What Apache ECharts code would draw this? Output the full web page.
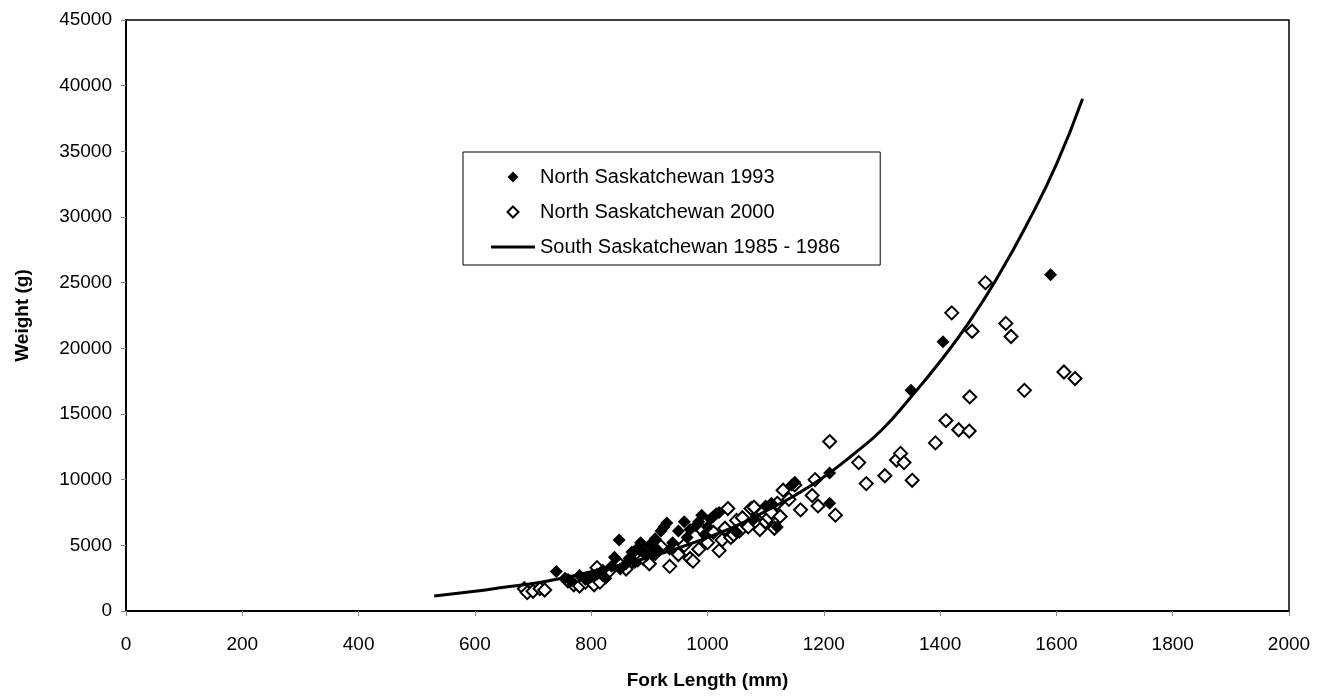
<!DOCTYPE html>
<html><head><meta charset="utf-8">
<script src="https://cdn.jsdelivr.net/npm/echarts@6/dist/echarts.min.js"></script>
<style>html,body{margin:0;padding:0;background:#fff}#c{width:1333px;height:700px}</style>
</head><body><div id="c"></div>
<script>
// Fork length (mm), weight (g)
const ns1993 = [
[740,3000],[755,2500],[765,2300],[780,2700],[790,2400],[800,2600],[810,2800],[820,3100],[825,2500],[835,3400],
[840,4100],[848,5400],[850,3200],[860,3600],[865,4000],[870,4500],[875,3700],[880,4800],[885,5200],[890,4500],
[895,4200],[900,5000],[905,4300],[910,5500],[915,4600],[920,6100],[925,6400],[930,6700],[935,4700],[940,5200],
[950,6100],[960,6800],[965,5600],[970,6200],[980,6500],[985,6800],[990,7300],[995,5800],[1000,6400],[1005,7000],
[1010,7200],[1015,7400],[1020,7500],[1050,6000],[1080,7000],[1100,8000],[1110,8200],[1120,6400],[1145,9600],[1150,9800],
[1210,10500],[1210,8200],[1350,16800],[1405,20500],[1590,25600]
];
const ns2000 = [
[685,1700],[690,1400],[700,1500],[712,1700],[720,1600],[760,2300],[770,2000],[780,1900],[790,2200],[800,2500],
[805,2000],[810,3300],[815,2200],[820,2800],[830,3000],[850,3500],[860,3200],[870,3800],[880,3900],[890,4000],
[900,3600],[910,4400],[920,4900],[935,3400],[950,4300],[960,5000],[970,4000],[975,3800],[985,4700],[990,6200],
[1000,5200],[1010,6000],[1020,4600],[1025,5400],[1030,6300],[1035,7800],[1040,5600],[1045,5800],[1050,6900],[1055,6100],
[1060,7100],[1070,6400],[1075,7800],[1080,7900],[1085,6700],[1090,6200],[1095,7500],[1100,6800],[1105,7100],[1110,7500],
[1115,6300],[1120,8200],[1125,7200],[1130,9200],[1140,8500],[1150,9600],[1160,7700],[1180,8800],[1185,10000],[1190,8000],
[1210,12900],[1220,7300],[1260,11300],[1273,9700],[1305,10300],[1325,11500],[1332,12000],[1338,11300],[1352,9950],[1392,12800],
[1410,14500],[1420,22700],[1432,13800],[1450,13700],[1451,16300],[1455,21300],[1478,25000],[1513,21900],[1522,20900],[1545,16800],
[1613,18200],[1632,17700]
];
const ss1985Len = [530,600,650,700,750,800,850,900,950,1000,1050,1100,1150,1200,1250,1300,1350,1400,1450,1500,1550,1600,1645];
const ss1985Wt  = [1150,1500,1800,2100,2500,3000,3500,4100,4800,5600,6500,7600,8800,10200,11900,13800,16300,19000,22000,25500,29500,34000,39000];
const seriesNames = ['North Saskatchewan 1993','North Saskatchewan 2000','South Saskatchewan 1985 - 1986'];
const xTitle = 'Fork Length (mm)';
const yTitle = 'Weight (g)';

const font = '"Liberation Sans", Arial, sans-serif';
const diamondIcon = 'path://M5,0L10,5L5,10L0,5Z';
const lineIcon = 'path://M0,0L44,0L44,3L0,3Z';
const chart = echarts.init(document.getElementById('c'), null, {renderer:'canvas'});
chart.setOption({
  animation:false,
  backgroundColor:'#fff',
  grid:{left:126, right:44, top:20, bottom:89, show:true, borderColor:'#000', borderWidth:1.5, backgroundColor:'transparent'},
  legend:{
    left:463, top:152, orient:'vertical',
    padding:[15,40,8,28], itemGap:15, itemWidth:44, itemHeight:11, symbolKeepAspect:true,
    borderColor:'#000', borderWidth:1, backgroundColor:'#fff',
    textStyle:{fontFamily:font, fontSize:20, color:'#000'},
    data:[
      {name:seriesNames[0], icon:diamondIcon, itemStyle:{color:'#000', borderWidth:0}},
      {name:seriesNames[1], icon:diamondIcon, itemStyle:{color:'#fff', borderColor:'#000', borderWidth:2}},
      {name:seriesNames[2], icon:lineIcon, itemStyle:{color:'#000', borderWidth:0}}
    ]
  },
  xAxis:{type:'value', min:0, max:2000, interval:200,
    name:xTitle, nameLocation:'middle', nameGap:60,
    nameTextStyle:{fontFamily:font, fontSize:19, fontWeight:'bold', color:'#000'},
    axisLine:{lineStyle:{color:'#000', width:2}},
    axisTick:{show:true, length:5, lineStyle:{color:'#888'}},
    axisLabel:{fontFamily:font, fontSize:19, color:'#000', margin:24, formatter:v=>String(v)},
    splitLine:{show:false}},
  yAxis:{type:'value', min:0, max:45000, interval:5000,
    name:yTitle, nameLocation:'middle', nameGap:94, nameRotate:90,
    nameTextStyle:{fontFamily:font, fontSize:19, fontWeight:'bold', color:'#000'},
    axisLine:{show:true, lineStyle:{color:'#000', width:2}},
    axisTick:{show:true, length:5, lineStyle:{color:'#888'}},
    axisLabel:{fontFamily:font, fontSize:19, color:'#000', margin:14, formatter:v=>String(v)},
    splitLine:{show:false}},
  series:[
    {name:seriesNames[1], type:'scatter', data:ns2000, symbol:'diamond', symbolSize:13,
     itemStyle:{color:'#fff', borderColor:'#000', borderWidth:2, opacity:1}, z:2},
    {name:seriesNames[0], type:'scatter', data:ns1993, symbol:'diamond', symbolSize:13,
     itemStyle:{color:'#000', opacity:1}, z:3},
    {name:seriesNames[2], type:'line', data:ss1985Len.map((x,i)=>[x, ss1985Wt[i]]),
     smooth:true, showSymbol:false, symbol:'none', lineStyle:{color:'#000', width:3}, itemStyle:{color:'#000'}, z:4}
  ]
});
</script></body></html>
